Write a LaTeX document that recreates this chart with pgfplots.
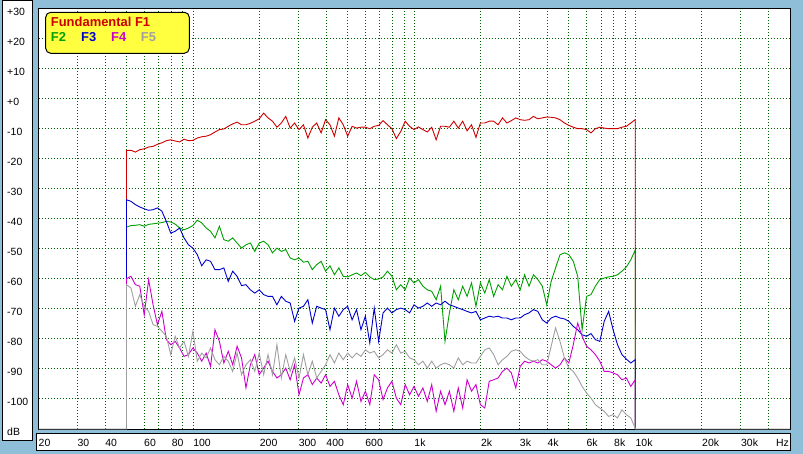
\documentclass[border=0pt]{standalone}
\usepackage{fontspec}
\setmainfont{Liberation Sans}
\usepackage{pgfplots}
\usepackage{pgfplotstable}
\pgfplotsset{compat=1.18}
\definecolor{bgblue}{RGB}{142,190,216}
\definecolor{gridgreen}{RGB}{0,95,0}
\definecolor{fred}{RGB}{204,0,0}
\definecolor{fgreen}{RGB}{0,160,0}
\definecolor{fblue}{RGB}{0,0,204}
\definecolor{fmag}{RGB}{204,0,204}
\definecolor{fgray}{RGB}{160,160,160}
\definecolor{legyellow}{RGB}{255,255,64}
\definecolor{refred}{RGB}{192,0,0}

\pgfplotstableread{
f F1 F2 F3 F4 F5
20 -110 -110 -110 -110 -110
50 -110 -110 -110 -110 -110
50 -17.2 -42.7 -33.6 -59.9 -61.9
52.36 -17.1 -42.2 -34.1 -59.1 -63.0
54.83 -17.7 -42.1 -35.2 -61.9 -69.1
57.41 -16.9 -41.9 -36.0 -62.4 -65.2
60.12 -16.6 -42.4 -36.6 -72.0 -69.1
62.95 -16.0 -41.8 -37.1 -60.2 -70.8
65.92 -15.8 -41.6 -36.9 -68.6 -75.2
69.02 -15.1 -41.4 -36.3 -75.2 -75.8
72.27 -14.6 -41.2 -37.4 -70.8 -77.4
75.68 -13.9 -40.8 -40.8 -80.2 -79.1
79.24 -13.6 -41.0 -44.7 -81.9 -85.2
82.98 -14.0 -41.7 -44.1 -80.8 -79.1
86.89 -14.3 -43.0 -43.0 -83.0 -83.0
90.99 -13.4 -43.6 -46.3 -85.8 -80.8
95.28 -13.9 -43.0 -48.6 -85.2 -85.8
99.77 -13.8 -42.2 -49.7 -83.0 -77.4
104.47 -13.0 -40.4 -51.9 -84.7 -87.4
109.39 -12.6 -41.3 -55.6 -87.4 -84.7
114.55 -12.4 -43.0 -53.6 -84.7 -86.3
119.94 -11.9 -44.1 -54.1 -89.1 -83.0
125.59 -11.0 -46.3 -56.9 -76.9 -86.9
131.52 -10.2 -42.4 -56.9 -80.8 -88.6
137.71 -10.0 -46.9 -56.3 -88.0 -85.8
144.20 -9.1 -47.4 -60.8 -84.1 -87.4
151.00 -8.3 -46.3 -57.4 -88.6 -90.8
158.11 -7.7 -48.0 -59.1 -82.4 -84.7
165.57 -8.6 -49.7 -62.2 -86.3 -91.9
173.37 -8.6 -48.6 -61.9 -96.3 -88.6
181.54 -8.1 -48.0 -63.6 -88.6 -86.9
190.10 -7.4 -50.8 -64.7 -85.2 -90.8
199.05 -6.6 -48.0 -63.6 -91.9 -84.7
208.44 -4.7 -47.4 -65.2 -89.7 -91.9
218.26 -6.3 -48.6 -65.8 -87.4 -85.2
228.55 -7.4 -51.3 -65.8 -90.8 -91.9
239.32 -9.4 -49.7 -68.6 -93.0 -81.9
250.60 -8.0 -50.8 -65.8 -91.9 -93.0
262.41 -5.8 -50.2 -67.4 -89.7 -85.2
274.77 -9.7 -53.0 -68.0 -93.6 -90.8
287.72 -8.0 -53.6 -74.1 -88.6 -86.3
301.28 -10.2 -53.0 -69.7 -98.6 -93.0
315.48 -8.6 -54.4 -69.1 -93.0 -85.2
330.35 -13.0 -54.1 -66.9 -91.9 -91.9
345.92 -9.4 -56.9 -74.7 -95.2 -87.4
362.22 -8.0 -55.2 -69.1 -93.0 -93.0
379.29 -11.3 -54.1 -69.7 -94.7 -90.8
397.17 -6.9 -57.4 -70.2 -91.9 -88.6
415.88 -8.6 -55.6 -76.9 -95.8 -85.2
435.48 -12.4 -58.6 -69.7 -94.1 -88.0
456.01 -6.3 -56.3 -72.4 -98.6 -84.7
477.50 -8.6 -59.1 -70.2 -101.9 -86.9
500.0 -12.4 -59.3 -69.1 -95.2 -84.7
523.6 -9.1 -58.6 -73.6 -99.7 -86.3
548.3 -9.7 -58.0 -70.2 -94.1 -84.7
574.1 -9.4 -58.9 -76.9 -100.8 -85.8
601.2 -9.4 -57.8 -72.4 -97.4 -83.6
629.5 -9.9 -59.3 -81.3 -101.9 -84.7
659.2 -9.1 -60.2 -69.7 -91.9 -84.1
690.2 -8.8 -60.0 -80.8 -93.6 -86.3
722.7 -7.2 -59.3 -71.3 -100.2 -85.2
756.8 -8.6 -57.4 -69.7 -96.3 -83.6
792.4 -9.9 -59.1 -71.3 -94.1 -84.7
829.8 -13.2 -63.6 -70.2 -99.7 -81.9
868.9 -10.8 -61.9 -69.7 -101.9 -84.7
909.9 -7.4 -63.6 -70.2 -95.2 -84.1
952.8 -9.1 -59.7 -71.3 -98.6 -86.3
997.7 -10.2 -61.3 -68.6 -95.8 -86.9
1044.7 -9.3 -60.2 -69.7 -99.1 -88.6
1093.9 -10.2 -62.4 -69.1 -96.3 -87.4
1145.5 -11.0 -63.6 -68.0 -100.8 -89.7
1199.4 -9.4 -64.1 -69.1 -95.2 -87.4
1255.9 -13.6 -66.9 -68.0 -104.1 -89.7
1315.2 -9.1 -62.4 -68.6 -97.4 -88.6
1377.1 -9.1 -80.8 -67.4 -101.9 -88.0
1442.0 -9.4 -71.3 -68.6 -97.4 -88.6
1510.0 -7.4 -63.6 -69.1 -104.1 -89.7
1581.1 -9.7 -66.9 -69.7 -96.3 -86.3
1655.7 -7.4 -62.4 -70.2 -103.0 -88.6
1733.7 -10.6 -65.8 -70.8 -93.6 -87.4
1815.4 -8.6 -61.3 -71.3 -97.4 -88.0
1901.0 -12.8 -69.1 -70.8 -95.2 -88.0
1990.5 -8.0 -61.3 -73.6 -101.9 -85.8
2084.4 -8.0 -64.7 -73.0 -103.0 -83.6
2182.6 -7.4 -60.2 -72.4 -94.1 -83.0
2285.5 -7.4 -65.8 -72.7 -93.6 -85.2
2393.2 -8.6 -61.9 -72.4 -93.0 -88.6
2506.0 -6.3 -63.6 -73.0 -90.8 -86.9
2624.1 -8.0 -59.1 -73.0 -89.7 -85.8
2747.7 -7.2 -62.4 -73.6 -91.3 -84.1
2877.2 -6.3 -60.2 -73.0 -96.3 -83.6
3012.8 -6.9 -63.6 -73.0 -89.1 -84.1
3154.8 -7.1 -58.6 -71.9 -87.4 -85.8
3303.5 -6.9 -62.4 -71.3 -88.0 -86.9
3459.2 -5.8 -58.6 -70.2 -87.4 -87.4
3622.2 -6.6 -60.2 -70.8 -88.0 -86.9
3792.9 -6.3 -62.4 -73.6 -86.9 -88.6
3971.7 -6.0 -68.6 -74.7 -87.4 -88.6
4158.8 -6.1 -60.8 -73.0 -88.6 -82.4
4354.8 -6.3 -56.3 -72.4 -89.7 -76.3
4560.1 -6.9 -51.9 -73.0 -88.6 -80.8
4775.0 -8.0 -51.3 -73.3 -86.3 -86.3
5000 -8.8 -51.9 -74.1 -88.0 -89.7
5236 -9.4 -54.1 -75.8 -81.9 -90.8
5483 -9.9 -59.1 -76.9 -74.7 -93.0
5741 -9.9 -76.9 -78.6 -79.1 -95.8
6012 -10.2 -65.8 -79.1 -82.4 -98.0
6295 -11.3 -65.2 -78.2 -83.6 -99.7
6592 -9.9 -62.4 -80.2 -85.2 -101.9
6902 -9.4 -60.2 -80.8 -87.4 -103.0
7227 -9.7 -59.7 -74.1 -90.8 -104.1
7568 -9.9 -59.3 -70.8 -90.8 -105.8
7924 -9.9 -59.1 -76.9 -91.3 -105.2
8298 -9.9 -58.6 -81.9 -91.9 -106.3
8689 -9.4 -57.4 -85.2 -93.6 -103.6
9099 -9.1 -56.0 -86.7 -93.0 -105.2
9528 -8.0 -53.6 -88.0 -95.8 -106.3
9977 -6.9 -50.4 -86.9 -93.6 -109.7
10000 -110 -110 -110 -110 -110
50000 -110 -110 -110 -110 -110
}\harm

\begin{document}
\begin{tikzpicture}
\fill[bgblue] (0bp,0bp) rectangle (803bp,454bp);
\filldraw[fill=white,draw=black,line width=1bp] (2.5bp,13.5bp) rectangle (32.5bp,453.5bp);
\filldraw[fill=white,draw=black,line width=1bp] (36bp,3bp) rectangle (790bp,20bp);
\begin{axis}[
  at={(38.5bp,25bp)}, anchor=south west,
  scale only axis, width=751.5bp, height=420bp,
  xmode=log, xmin=20, xmax=50000, ymin=-110, ymax=30,
  axis background/.style={fill=white},
  axis line style={black, line width=1bp},
  grid=major,
  major grid style={gridgreen, dash pattern=on 1bp off 2bp, line width=1bp},
  major tick length=0pt,
  xtick={20,30,40,50,60,70,80,90,100,200,300,400,500,600,700,800,900,1000,2000,3000,4000,5000,6000,7000,8000,9000,10000,20000,30000,40000,50000},
  xticklabels={20,30,40,,60,,80,,100,200,300,400,,600,,,,1k,2k,3k,4k,,6k,,8k,,10k,20k,30k,,},
  ytick={-110,-100,-90,-80,-70,-60,-50,-40,-30,-20,-10,0,10,20,30},
  yticklabels={dB,-100,-90,-80,-70,-60,-50,-40,-30,-20,-10,+0,+10,+20,+30},
  ticklabel style={font=\fontsize{10.5}{12}\selectfont, inner sep=0pt, text=black},
  xticklabel style={anchor=west, yshift=-14bp},
  yticklabel style={anchor=west, xshift=-31.5bp, yshift=-2.5bp},
  extra y ticks={-40}, extra y tick labels={},
  extra y tick style={grid style={solid, refred, line width=1.3bp}},
  every axis plot/.append style={line width=0.9bp, no markers},
  clip=true,
]
\addplot[fred, skip coords between index={0}{1}, skip coords between index={119}{120}] table[x=f,y=F1]{\harm};
\addplot[fgreen, skip coords between index={0}{1}, skip coords between index={119}{120}] table[x=f,y=F2]{\harm};
\addplot[fblue, skip coords between index={0}{1}, skip coords between index={119}{120}] table[x=f,y=F3]{\harm};
\addplot[fmag, skip coords between index={0}{1}, skip coords between index={119}{120}] table[x=f,y=F4]{\harm};
\addplot[fgray] table[x=f,y=F5]{\harm};
\end{axis}
\node[anchor=east, inner sep=0pt, font=\fontsize{10.5}{12}\selectfont] at (789bp,11bp) {Hz};
\filldraw[fill=legyellow, draw=black, rounded corners=5bp, line width=1bp] (45.7bp,400.7bp) rectangle (189.3bp,441.7bp);
\node[anchor=base west, inner sep=0pt, text=fred, font=\bfseries\fontsize{13}{15}\selectfont] at (50.7bp,427.3bp) {Fundamental F1};
\node[anchor=base west, inner sep=0pt, text=fgreen, font=\bfseries\fontsize{13}{15}\selectfont] at (50.7bp,412.3bp) {F2};
\node[anchor=base west, inner sep=0pt, text=fblue, font=\bfseries\fontsize{13}{15}\selectfont] at (81bp,412.3bp) {F3};
\node[anchor=base west, inner sep=0pt, text=fmag, font=\bfseries\fontsize{13}{15}\selectfont] at (111bp,412.3bp) {F4};
\node[anchor=base west, inner sep=0pt, text=fgray, font=\bfseries\fontsize{13}{15}\selectfont] at (140.7bp,412.3bp) {F5};
\pgfresetboundingbox
\path[use as bounding box] (0bp,0bp) rectangle (803bp,454bp);
\end{tikzpicture}
\end{document}
